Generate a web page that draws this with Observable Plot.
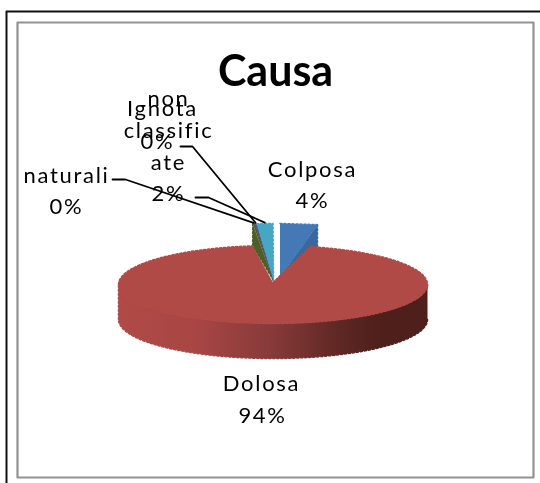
<!DOCTYPE html>
<html><head><meta charset="utf-8">
<script src="https://cdn.jsdelivr.net/npm/d3@7"></script>
<script src="https://cdn.jsdelivr.net/npm/@observablehq/plot@0.6"></script>
<style>html,body{margin:0;padding:0;background:#fff}svg{display:block;filter:blur(.35px)}.lbl text{letter-spacing:1.7px}</style>
</head><body><div id="chart"></div>
<script>
// --- data
const categories = ["Colposa", "Dolosa", "naturali", "Ignota", "non classificate"];
const shares = [3.9, 94.0, 0.2, 0.2, 1.7];
const shownPercent = ["4%", "94%", "0%", "0%", "2%"];
const labelLines = [["Colposa"], ["Dolosa"], ["naturali"], ["Ignota"], ["non", "classific", "ate"]];

// --- layout and styling
const W = 540, H = 483;
const pie = {cx: 272.5, cy: 284, rx: 154.5, ry: 39, depth: 35, lift: 22};
const topColors = ["#4479b6", "#b04a47", "#5a7a2c", "#5f4c8c", "#46a7c4"];
const sideColors = ["#3a689e", null, "#4b5f26", null, null];
const shift = [7, 0, 0, 0, 0];
const apexY = [276, 282, 280, 280, 280];
const labelAt = [[312, 169], [261, 383], [66, 175], [162, 108], [168, 98]];
const pctAt = [[312, 200], [262, 415], [66, 206], [157, 141], [168, 193]];
const elbows = [null, null, [[112, 179], [125, 179]], [[180, 146], [192, 146]], [[195, 197], [208, 197]]];

// --- geometry derived from the shares
const total = d3.sum(shares);
const bounds = d3.cumsum(shares).map(v => v / total * 2 * Math.PI);
const starts = [0, ...bounds.slice(0, -1)];
const rim = (t, dy = 0, dx = 0) => ({x: pie.cx + dx + pie.rx * Math.sin(t), y: pie.cy + dy - pie.ry * Math.cos(t)});
const arc = (a, b, dy = 0) => d3.range(0, 121).map(i => rim(a + (b - a) * i / 120, dy));

const faces = [];
const addFace = (id, pts, fill) => pts.forEach(p => faces.push({...p, id, fill}));
categories.forEach((c, i) => {
  if (i === 1) return;
  const dx = shift[i], A = rim(starts[i], -pie.lift, dx), B = rim(bounds[i], -pie.lift, dx);
  const apex = {x: pie.cx + dx + (i === 0 ? 0 : 0.5), y: apexY[i]};
  if (i === 0) addFace("side" + i, [B, {x: B.x, y: B.y + pie.lift}, apex], sideColors[i]);
  if (i === 2) addFace("side" + i, [A, {x: A.x, y: A.y + pie.lift}, apex], sideColors[i]);
  addFace("top" + i, [A, B, apex], i === 2 ? sideColors[2] : topColors[i]);
});
addFace("wall", [...arc(Math.PI / 2, 3 * Math.PI / 2, pie.depth), ...arc(3 * Math.PI / 2, Math.PI / 2)], "url(#wall)");
addFace("redtop", [{x: pie.cx, y: apexY[1]}, ...arc(starts[1], bounds[1])], topColors[1]);

const texts = [];
categories.forEach((c, i) => {
  labelLines[i].forEach((t, j) => texts.push({t, x: labelAt[i][0], y: labelAt[i][1] + j * 32}));
  texts.push({t: shownPercent[i], x: pctAt[i][0], y: pctAt[i][1]});
});

const leaders = [];
categories.forEach((c, i) => {
  if (!elbows[i]) return;
  const m = rim((starts[i] + bounds[i]) / 2, -pie.lift);
  [...elbows[i], {x: m.x, y: m.y - 1}].forEach(p => leaders.push(Array.isArray(p) ? {x: p[0], y: p[1], id: i} : {...p, id: i}));
});

const box = (id, l, t, r, b) => [[l, b], [l, t], [r, t], [r, b], [l, b]].map(([x, y]) => ({x, y, id}));
const outer = [{x: 6, y: H, id: 0}, {x: 6, y: 11, id: 0}, {x: W, y: 11, id: 0}];

const defs = () => {
  const ns = "http://www.w3.org/2000/svg";
  const d = document.createElementNS(ns, "defs");
  d.innerHTML = `<linearGradient id="wall" gradientUnits="userSpaceOnUse" x1="118" x2="427" y1="0" y2="0">
    <stop offset="0" stop-color="#b04a47"/><stop offset=".25" stop-color="#a84644"/>
    <stop offset=".5" stop-color="#863a39"/><stop offset=".72" stop-color="#5e2723"/>
    <stop offset=".85" stop-color="#4e1f1b"/><stop offset="1" stop-color="#4e1f1b"/></linearGradient>`;
  return d;
};

const chart = Plot.plot({
  width: W, height: H, margin: 0,
  x: {domain: [0, W], range: [0, W], axis: null},
  y: {domain: [0, H], range: [0, H], axis: null},
  style: {background: "#fff", fontFamily: "Lato, sans-serif"},
  marks: [
    defs,
    Plot.line(outer, {x: "x", y: "y", stroke: "#111", strokeWidth: 2}),
    Plot.line(box(1, 17, 22, 533, 477), {x: "x", y: "y", stroke: "#929292", strokeWidth: 2.2}),
    Plot.line(faces, {x: "x", y: "y", z: "id", fill: "fill", stroke: "fill", strokeWidth: 1.5, strokeDasharray: "2 2", curve: "linear"}),
    Plot.line(leaders, {x: "x", y: "y", z: "id", stroke: "#000", strokeWidth: 1.8}),
    Plot.text(texts, {x: "x", y: "y", text: "t", fontSize: 22, fill: "#000", className: "lbl"}),
    Plot.text(["Causa"], {x: () => 275, y: () => 72, fontSize: 43, fontWeight: 700, fill: "#000"})
  ]
});
document.getElementById("chart").append(chart);
</script></body></html>
